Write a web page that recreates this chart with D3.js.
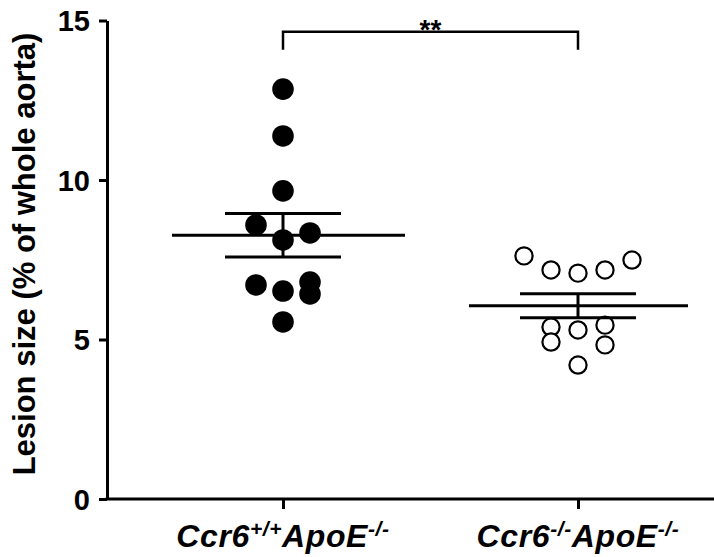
<!DOCTYPE html>
<html>
<head>
<meta charset="utf-8">
<script src="https://cdn.jsdelivr.net/npm/d3@7"></script>
<style>
  body { margin: 0; background: #fff; }
  text { font-family: "Liberation Sans", Arial, Helvetica, sans-serif; font-weight: bold; fill: #000; }
</style>
</head>
<body>
<div id="chart"></div>
<script>
// groups and their labels (base, superscript, base, superscript)
var groups = ["wt", "ko"];
var groupLabels = [["Ccr6", "+/+", "ApoE", "-/-"], ["Ccr6", "-/-", "ApoE", "-/-"]];

// lesion size, % of whole aorta
var wtValues = [12.85, 11.38, 9.66, 8.59, 8.34, 8.12, 6.71, 6.80, 6.43, 6.52, 5.55];
var koValues = [7.62, 7.18, 7.08, 7.18, 7.49, 5.39, 5.30, 5.45, 4.92, 4.83, 4.20];
// scatter column each point sits in (0 = centre)
var wtSlots = [0, 0, 0, -1, 1, 0, -1, 1, 1, 0, 0];
var koSlots = [-2, -1, 0, 1, 2, -1, 0, 1, -1, 1, 0];

var yTicks = [0, 5, 10, 15];
var yTitle = "Lesion size (% of whole aorta)";
var sigLabel = "**";
var bracketLevel = 14.65;

var width = 714, height = 557;
var axisX = 107;

var svg = d3.select("#chart").append("svg")
  .attr("width", width)
  .attr("height", height);

var y = d3.scaleLinear().domain([0, 15]).range([499, 20.5]);
var x = d3.scalePoint().domain(groups).range([283, 578]);

// y axis
var yAxis = svg.append("g")
  .attr("transform", "translate(" + axisX + ",0)")
  .call(d3.axisLeft(y).tickValues(yTicks).tickSize(8).tickSizeOuter(0).tickPadding(9));
yAxis.selectAll("path, line").attr("stroke", "#000").attr("stroke-width", 3);
yAxis.selectAll("text").style("font-size", "29px").attr("dy", "0.36em");

// x axis
var xAxis = svg.append("g")
  .attr("transform", "translate(0," + y(0) + ")")
  .call(d3.axisBottom(x).tickSize(10).tickFormat(""));
xAxis.select(".domain").remove();
xAxis.selectAll("line").attr("stroke", "#000").attr("stroke-width", 3);
xAxis.append("line")
  .attr("x1", axisX - 1.5).attr("x2", width)
  .attr("stroke", "#000").attr("stroke-width", 3);

// category labels with superscripts
groups.forEach(function(g, i) {
  var parts = groupLabels[i];
  var t = svg.append("text")
    .attr("x", x(g)).attr("y", 547)
    .attr("text-anchor", "middle")
    .style("font-size", "32px")
    .style("font-style", "italic")
    .style("letter-spacing", "0.6px");
  parts.forEach(function(p, j) {
    var sup = j % 2 == 1;
    t.append("tspan")
      .attr("dy", sup ? -11 : (j > 0 ? 11 : 0))
      .style("font-size", sup ? "21px" : "32px")
      .text(p);
  });
});

// y title
svg.append("text")
  .attr("transform", "translate(35,254) rotate(-90)")
  .attr("text-anchor", "middle")
  .style("font-size", "31px")
  .text(yTitle);

// points, mean and SEM
var series = [
  { key: "wt", values: wtValues, slots: wtSlots, filled: true },
  { key: "ko", values: koValues, slots: koSlots, filled: false }
];
var slotStep = 27;
var meanReach = [[111, 122], [109, 110]];
var semReach = 58;

series.forEach(function(s, i) {
  var cx = x(s.key);
  var m = d3.mean(s.values);
  var sem = d3.deviation(s.values) / Math.sqrt(s.values.length);

  var g = svg.append("g");
  g.selectAll("circle")
    .data(s.values)
    .enter().append("circle")
    .attr("cx", function(d, k) { return cx + s.slots[k] * slotStep; })
    .attr("cy", function(d) { return y(d); })
    .attr("r", s.filled ? 10.8 : 8.6)
    .attr("fill", s.filled ? "#000" : "#fff")
    .attr("stroke", "#000")
    .attr("stroke-width", s.filled ? 0 : 2.2);

  var lines = [
    [cx - meanReach[i][0], y(m), cx + meanReach[i][1], y(m)],
    [cx - semReach, y(m + sem), cx + semReach, y(m + sem)],
    [cx - semReach, y(m - sem), cx + semReach, y(m - sem)],
    [cx, y(m + sem), cx, y(m - sem)]
  ];
  g.selectAll("line")
    .data(lines)
    .enter().append("line")
    .attr("x1", d => d[0]).attr("y1", d => d[1])
    .attr("x2", d => d[2]).attr("y2", d => d[3])
    .attr("stroke", "#000")
    .attr("stroke-width", 3);
});

// significance bracket
var by = y(bracketLevel);
svg.append("path")
  .attr("d", "M" + x("wt") + "," + (by + 18) + "V" + by + "H" + x("ko") + "V" + (by + 18))
  .attr("fill", "none")
  .attr("stroke", "#000")
  .attr("stroke-width", 2.5);
svg.append("text")
  .attr("x", (x("wt") + x("ko")) / 2)
  .attr("y", by + 7)
  .attr("text-anchor", "middle")
  .style("font-size", "28px")
  .text(sigLabel);
</script>
</body>
</html>
